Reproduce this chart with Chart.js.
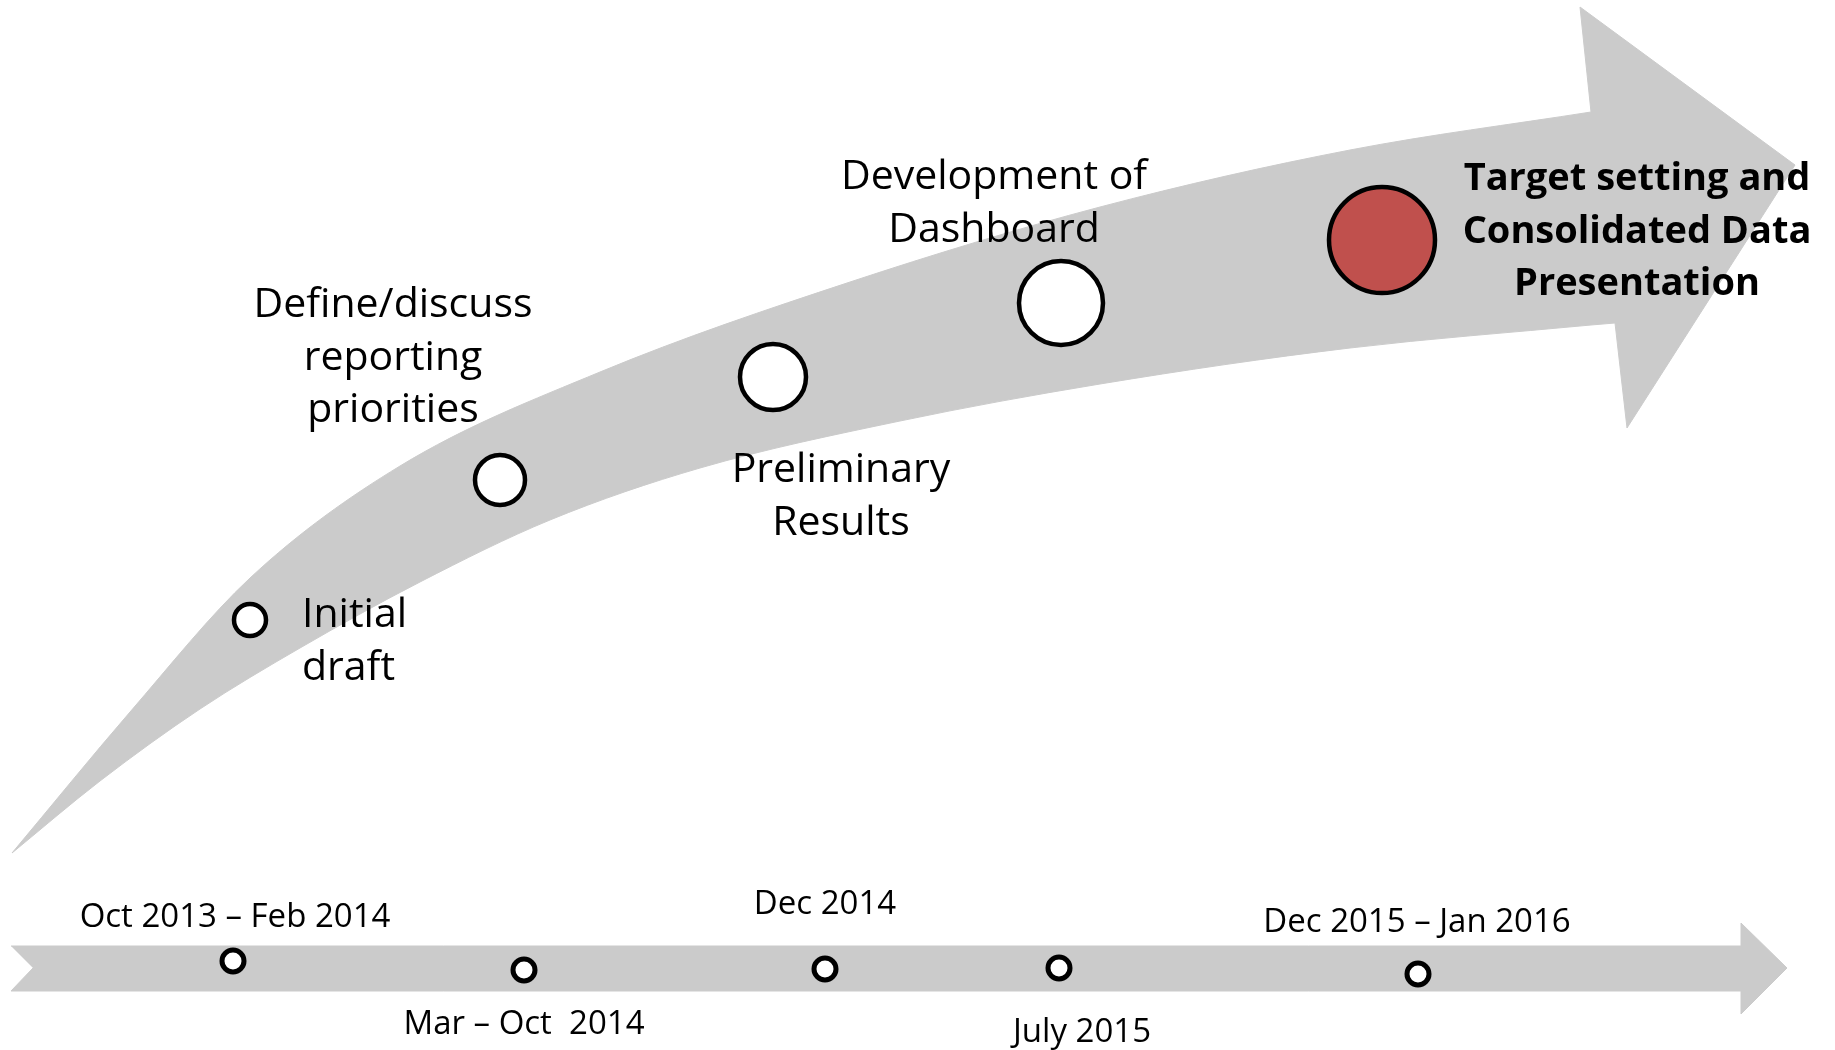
<!DOCTYPE html>
<html>
<head>
<meta charset="utf-8">
<script src="https://cdn.jsdelivr.net/npm/chart.js@4.4.1/dist/chart.umd.min.js"></script>
<style>
  html, body { margin: 0; padding: 0; background: #fff; }
  #wrap { width: 1835px; height: 1050px; }
</style>
</head>
<body>
<div id="wrap"><canvas id="timeline" width="1835" height="1050"></canvas></div>
<script>
// stages on the curved arrow
const stageLabels = [
  ['Initial', 'draft'],
  ['Define/discuss', 'reporting', 'priorities'],
  ['Preliminary', 'Results'],
  ['Development of', 'Dashboard'],
  ['Target setting and', 'Consolidated Data', 'Presentation'],
];
const stageX = [250, 500, 773, 1061, 1382];
const stageY = [620, 480, 377, 303, 240];
const stageRadius = [16, 25, 33, 42, 53];
const stageFill = ['#ffffff', '#ffffff', '#ffffff', '#ffffff', '#c0504d'];

// dates on the straight timeline
const periodLabels = ['Oct 2013 – Feb 2014', 'Mar – Oct  2014', 'Dec 2014', 'July 2015', 'Dec 2015 – Jan 2016'];
const periodX = [233, 524, 825, 1059, 1418];
const periodY = [961, 970, 969, 968, 974];

// where the texts sit (first baseline)
const stageTextX = [302, 393, 841, 994, 1637];
const stageTextY = [627, 317, 482, 189, 190];
const stageAlign = ['left', 'center', 'center', 'center', 'center'];
const periodTextX = [235, 524, 825, 1082, 1417];
const periodTextY = [927, 1034, 914, 1042, 932];

// outline of the arrows
const arrowTop = [[12, 853], [130, 712], [250, 578], [400, 466], [600, 372], [850, 282], [1100, 207],
  [1350, 150], [1591, 112]];
const arrowBottom = [[12, 853], [100, 781], [200, 709], [300, 648], [420, 582], [550, 520], [700, 468],
  [900, 421], [1100, 384], [1350, 348], [1591, 325]];
const arrowHead = [[1591, 112], [1580, 7], [1795, 165], [1627, 428], [1615, 323], [1591, 325]];
const band = [[11, 946], [1741, 946], [1741, 923], [1787, 968], [1741, 1014], [1741, 991], [11, 991], [33, 968]];

const GREY = '#cbcbcb';
const toXY = (pts) => pts.map(([x, y]) => ({ x, y }));

const textPlugin = {
  id: 'timelineText',
  afterDatasetsDraw(chart) {
    const { ctx, scales: { x, y } } = chart;
    ctx.save();
    ctx.fillStyle = '#000';
    ctx.textBaseline = 'alphabetic';
    stageLabels.forEach((lines, i) => {
      ctx.font = i === 4 ? 'bold 38px "Open Sans"' : '41px "Open Sans"';
      ctx.textAlign = stageAlign[i];
      lines.forEach((t, j) => {
        ctx.fillText(t, x.getPixelForValue(stageTextX[i]), y.getPixelForValue(stageTextY[i] + j * 52.5));
      });
    });
    ctx.font = '33px "Open Sans"';
    ctx.textAlign = 'center';
    periodLabels.forEach((t, i) => {
      ctx.fillText(t, x.getPixelForValue(periodTextX[i]), y.getPixelForValue(periodTextY[i]));
    });
    ctx.restore();
  }
};

new Chart(document.getElementById('timeline'), {
  type: 'line',
  data: {
    datasets: [
      {
        data: stageX.map((x, i) => ({ x, y: stageY[i] })),
        showLine: false,
        pointRadius: stageRadius,
        pointBackgroundColor: stageFill,
        pointBorderColor: '#000',
        pointBorderWidth: 4.5,
        clip: false,
        order: 0,
      },
      {
        data: periodX.map((x, i) => ({ x, y: periodY[i] })),
        showLine: false,
        pointRadius: 11,
        pointBackgroundColor: '#fff',
        pointBorderColor: '#000',
        pointBorderWidth: 5,
        clip: false,
        order: 0,
      },
      {
        data: toXY(arrowTop),
        borderColor: GREY,
        borderWidth: 1,
        pointRadius: 0,
        cubicInterpolationMode: 'monotone',
        fill: false,
        order: 10,
      },
      {
        data: toXY(arrowBottom),
        borderColor: GREY,
        backgroundColor: GREY,
        borderWidth: 1,
        pointRadius: 0,
        cubicInterpolationMode: 'monotone',
        fill: '-1',
        order: 10,
      },
      {
        data: toXY(arrowHead),
        borderColor: GREY,
        backgroundColor: GREY,
        borderWidth: 1,
        pointRadius: 0,
        tension: 0,
        fill: 'shape',
        order: 10,
      },
      {
        data: toXY(band),
        borderColor: GREY,
        backgroundColor: GREY,
        borderWidth: 1,
        pointRadius: 0,
        tension: 0,
        fill: 'shape',
        order: 10,
      },
    ],
  },
  options: {
    responsive: false,
    animation: false,
    events: [],
    layout: { padding: 0, autoPadding: false },
    plugins: { legend: { display: false }, tooltip: { enabled: false } },
    scales: {
      x: { type: 'linear', min: 0, max: 1835, display: false },
      y: { type: 'linear', min: 0, max: 1050, reverse: true, display: false },
    },
  },
  plugins: [textPlugin],
});
</script>
</body>
</html>
